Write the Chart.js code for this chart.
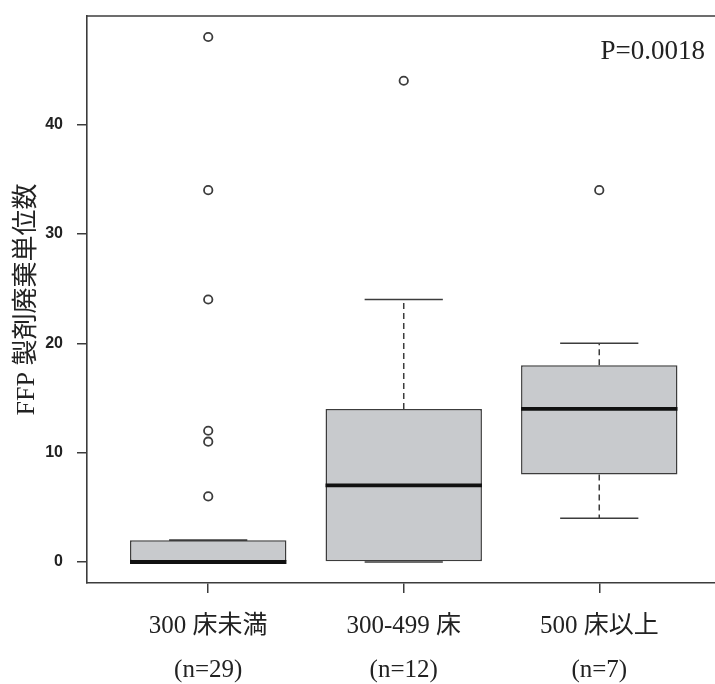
<!DOCTYPE html>
<html><head><meta charset="utf-8">
<script src="https://cdn.jsdelivr.net/npm/chart.js@4"></script>
<style>html,body{margin:0;padding:0;background:#fff;overflow:hidden}</style>
</head><body>
<canvas id="c" width="715" height="684"></canvas>
<script>
// ---- data ----
const categories = ['300 床未満', '300-499 床', '500 床以上'];
const sampleSizes = ['(n=29)', '(n=12)', '(n=7)'];
const positions = [1, 2, 3];
const whiskerLow = [0, 0, 4];
const q1 = [0, 0, 8];
const median = [0, 7, 14];
const q3 = [2, 14, 18];
const whiskerHigh = [2, 24, 20];
const outliers = [[48, 34, 24, 12, 11, 6], [44], [34]];
const yTicks = [0, 10, 20, 30, 40];
const yTitle = 'FFP 製剤廃棄単位数';
const pValueLabel = 'P=0.0018';

// ---- styling ----
const INK = '#3c3c3c';
const SERIF = "'Liberation Serif', 'Noto Sans CJK JP', serif";

const boxData = positions.map((p, i) => ({ x: p, y: [q1[i], q3[i]] }));
const outlierData = [];
outliers.forEach((arr, i) => arr.forEach(v => outlierData.push({ x: positions[i], y: v })));

const boxPlugin = {
  id: 'boxParts',
  afterDatasetsDraw(chart) {
    const { ctx, scales: { x, y } } = chart;
    const meta = chart.getDatasetMeta(0);
    ctx.save();
    positions.forEach((p, i) => {
      const bar = meta.data[i];
      const w = bar.width;
      const cx = x.getPixelForValue(p);
      const yq1 = y.getPixelForValue(q1[i]);
      const yq3 = y.getPixelForValue(q3[i]);
      const ylo = y.getPixelForValue(whiskerLow[i]);
      const yhi = y.getPixelForValue(whiskerHigh[i]);
      const ymed = y.getPixelForValue(median[i]);
      // dashed whiskers
      ctx.strokeStyle = INK;
      ctx.lineWidth = 1.5;
      ctx.setLineDash([6, 4]);
      ctx.beginPath();
      if (yhi < yq3) { ctx.moveTo(cx, yq3); ctx.lineTo(cx, yhi); }
      if (ylo > yq1) { ctx.moveTo(cx, yq1); ctx.lineTo(cx, ylo); }
      ctx.stroke();
      // caps
      ctx.setLineDash([]);
      ctx.lineWidth = 1.6;
      ctx.beginPath();
      ctx.moveTo(cx - w / 4, yhi); ctx.lineTo(cx + w / 4, yhi);
      ctx.moveTo(cx - w / 4, ylo); ctx.lineTo(cx + w / 4, ylo);
      ctx.stroke();
      // median
      ctx.strokeStyle = '#111';
      ctx.lineWidth = 3.8;
      ctx.beginPath();
      ctx.moveTo(cx - w / 2, ymed); ctx.lineTo(cx + w / 2, ymed);
      ctx.stroke();
    });
    ctx.restore();
  },
  afterDraw(chart) {
    const { ctx, chartArea } = chart;
    ctx.save();
    // top frame line
    ctx.strokeStyle = INK;
    ctx.lineWidth = 1.6;
    ctx.beginPath();
    ctx.moveTo(chartArea.left, chartArea.top);
    ctx.lineTo(chartArea.right, chartArea.top);
    ctx.stroke();
    // p value annotation
    ctx.fillStyle = '#222';
    ctx.font = "27px " + SERIF;
    ctx.textAlign = 'right';
    ctx.textBaseline = 'middle';
    ctx.fillText(pValueLabel, chartArea.right - 10, chartArea.top + 36);
    ctx.restore();
  }
};

new Chart(document.getElementById('c'), {
  type: 'bar',
  data: {
    datasets: [
      {
        type: 'bar',
        data: boxData,
        backgroundColor: '#c8cacd',
        borderColor: INK,
        borderWidth: 1.5,
        borderSkipped: false,
        categoryPercentage: 0.8,
        barPercentage: 1.0
      },
      {
        type: 'scatter',
        data: outlierData,
        pointStyle: 'circle',
        pointRadius: 4.2,
        pointBorderWidth: 1.8,
        pointBorderColor: INK,
        pointBackgroundColor: 'rgba(0,0,0,0)',
        clip: false
      }
    ]
  },
  options: {
    responsive: false,
    animation: false,
    devicePixelRatio: 1,
    layout: { autoPadding: false, padding: { top: 16, left: 0, right: 0, bottom: 0 } },
    plugins: { legend: { display: false }, tooltip: { enabled: false } },
    scales: {
      x: {
        type: 'linear',
        offset: false,
        min: 0.38,
        max: 3.592,
        afterBuildTicks: s => { s.ticks = positions.map(v => ({ value: v })); },
        afterFit: s => { s.height = 101; s.paddingLeft = 0; s.paddingRight = 0; },
        grid: { display: true, offset: false, drawOnChartArea: false, drawTicks: true, tickLength: 10, color: INK, lineWidth: 1.5 },
        border: { display: true, color: INK, width: 1.6 },
        ticks: {
          autoSkip: false,
          maxRotation: 0,
          minRotation: 0,
          padding: 11,
          color: '#222',
          font: { family: SERIF, size: 25, lineHeight: 44 / 25 },
          callback: (v) => { const i = positions.indexOf(v); return i < 0 ? '' : [categories[i], sampleSizes[i]]; }
        }
      },
      y: {
        type: 'linear',
        min: -1.92,
        max: 49.92,
        afterBuildTicks: s => { s.ticks = yTicks.map(v => ({ value: v })); },
        afterFit: s => { s.width = 87; s.paddingTop = 0; s.paddingBottom = 0; },
        grid: { display: true, drawOnChartArea: false, drawTicks: true, tickLength: 10, color: INK, lineWidth: 1.5 },
        border: { display: true, color: INK, width: 1.6 },
        ticks: {
          padding: 14,
          color: '#222',
          font: { family: "'Liberation Sans', Arial, sans-serif", size: 16, weight: 'bold' }
        },
        title: {
          display: true,
          text: yTitle,
          color: '#222',
          padding: { top: 12, bottom: 0 },
          font: { family: SERIF, size: 26, lineHeight: 1.2 }
        }
      }
    }
  },
  plugins: [boxPlugin]
});
</script>
</body></html>
